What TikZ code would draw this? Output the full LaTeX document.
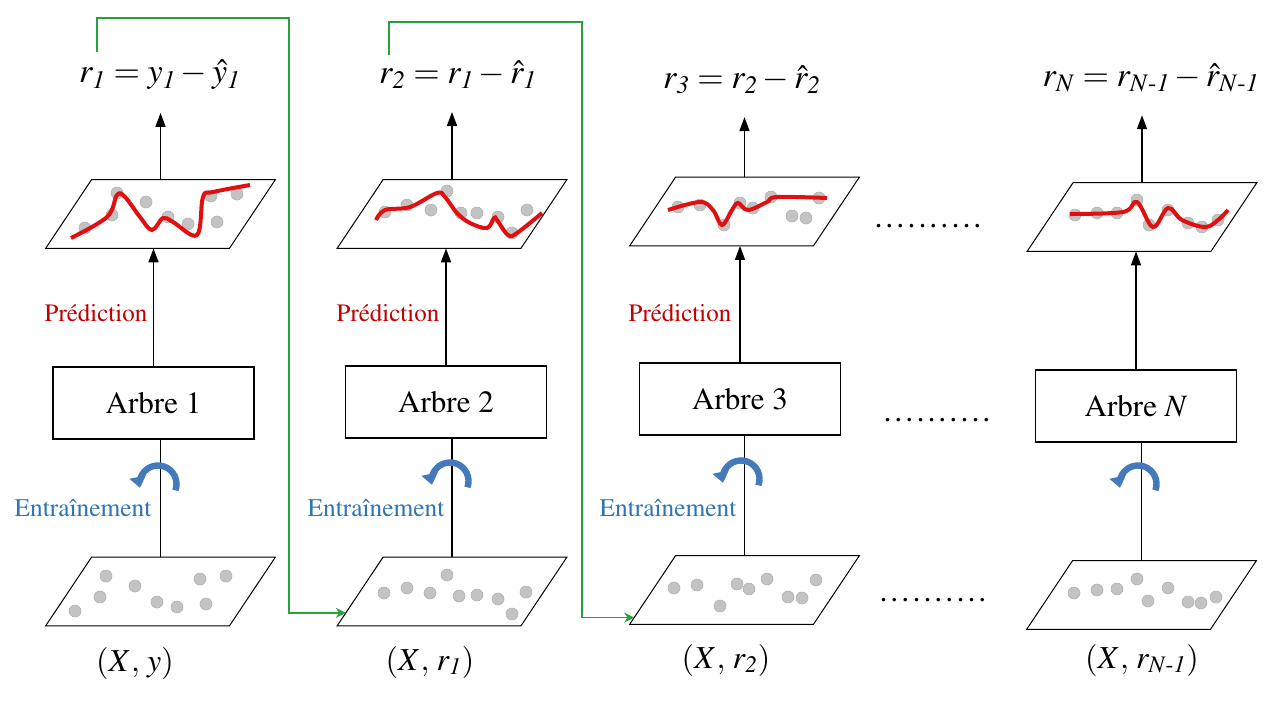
\documentclass[tikz,border=0pt]{standalone}
\usepackage[T1]{fontenc}
\usepackage{mathptmx}
\usepackage{amsmath}
\usepackage{xcolor}
\usetikzlibrary{positioning,arrows.meta,calc}

\definecolor{predred}{RGB}{192,0,0}
\definecolor{trainblue}{RGB}{46,117,182}
\definecolor{turnblue}{RGB}{68,122,188}
\definecolor{fitred}{RGB}{225,15,15}
\definecolor{feedgreen}{RGB}{40,160,60}
\definecolor{ptgray}{RGB}{195,195,195}

\newcommand{\dotrow}{\makebox[55pt]{\xleaders\hbox to 5.5pt{\hss.\hss}\hfill}}

\begin{document}
\begin{tikzpicture}[x=0.5pt,y=-0.5pt,>={Triangle[width=5pt,length=7pt]},
  tree/.style={draw,line width=0.6pt,minimum width=100.5pt,minimum height=36pt,font=\fontsize{15.5}{18}\selectfont},
  plane/.style={inner sep=0pt,minimum width=114.5pt,minimum height=34pt},
  edge/.style={line width=0.5pt},
  formula/.style={font=\fontsize{17}{20}\selectfont},
  data/.style={font=\fontsize{16}{19}\selectfont},
  pred/.style={text=predred,font=\fontsize{12.5}{15}\selectfont},
  train/.style={text=trainblue,font=\fontsize{12.7}{15}\selectfont},
  link/.style={line width=0.8pt},
  feed/.style={draw=feedgreen,line width=0.75pt,-{Stealth[width=5pt,length=5pt]}},
  fit/.style={draw=fitred,line width=2pt,smooth,tension=0.6},
  pt/.style={fill=ptgray,draw=gray!60,line width=0.3pt},
  turn/.style={draw=turnblue,line width=3.2pt,-{Triangle[width=8pt,length=5.5pt]}}]
\useasboundingbox (0,0) rectangle (1280,720);

\node[plane] (t1) at (160.5,214) {};
\node[plane] (t2) at (452,214) {};
\node[plane] (t3) at (744.5,211.5) {};
\node[plane] (t4) at (1142,217) {};
\node[plane] (d1) at (160.5,591.5) {};
\node[plane] (d2) at (452,591.5) {};
\node[plane] (d3) at (744.5,590) {};
\node[plane] (d4) at (1141.5,595) {};
\foreach \n in {t1,t2,t3,t4,d1,d2,d3,d4}
  \draw[edge] (\n.south west) -- ($(\n.south east)+(-46,0)$) -- (\n.north east)
    -- ($(\n.north west)+(46,0)$) -- cycle;

\node[tree] (a1) at (153.5,403) {Arbre 1};
\node[tree] (a2) at (446,402) {Arbre 2};
\node[tree] (a3) at (740,399) {Arbre 3};
\node[tree] (a4) at (1136,406) {Arbre \textit{N}};

\node[formula] (r1) at (160,75) {$r_{\mathit{1}} = y_{\mathit{1}} - \hat{y}_{\mathit{1}}$};
\node[formula] (r2) at (458,75) {$r_{\mathit{2}} = r_{\mathit{1}} - \hat{r}_{\mathit{1}}$};
\node[formula] (r3) at (742,80) {$r_{\mathit{3}} = r_{\mathit{2}} - \hat{r}_{\mathit{2}}$};
\node[formula] (r4) at (1151,78) {$r_{N} = r_{N\text{-}\mathit{1}} - \hat{r}_{N\text{-}\mathit{1}}$};

\node[data] (x1) at (135,663) {$(X,\, y)$};
\node[data] (x2) at (430,662) {$(X,\, r_{\mathit{1}})$};
\node[data] (x3) at (726,660) {$(X,\, r_{\mathit{2}})$};
\node[data] (x4) at (1142,660) {$(X,\, r_{N\text{-}\mathit{1}})$};

\node[pred] (pr1) at (96,313) {Pr\'ediction};
\node[pred] (pr2) at (388,313) {Pr\'ediction};
\node[pred] (pr3) at (680,313) {Pr\'ediction};
\node[train] (tr1) at (83,508) {Entra\^inement};
\node[train] (tr2) at (376,508) {Entra\^inement};
\node[train] (tr3) at (668,508) {Entra\^inement};

\node[data] (m1) at (928,226) {\dotrow};
\node[data] (m2) at (937,420) {\dotrow};
\node[data] (m3) at (933,600) {\dotrow};

\foreach \i in {1,...,4}{
  \draw[link] (d\i.north) -- (d\i.north |- a\i.south);
  \draw[link,->] (a\i.north) -- (a\i.north |- t\i.south);
  \draw[link,->,shorten >=8pt] (t\i.north) -- (t\i.north |- r\i.south);
}
\foreach \x/\y in {158/484,450/481,741/479,1138/484}
  \draw[turn] (\x,\y) ++(17.4,6.3) arc[start angle=20,end angle=-192,radius=18.5];

\foreach \x/\y in {85/228,117/193,112/215,146/202,168/217,188/224,211/196,237/194,217/222,
  385/212,407/205,431/210,447/191,461/213,477/213,498/217,512/233,527/210,
  678/207,700/205,724/225,740/203,753/208,771/197,792/216,806/218,819/198,
  1075/215,1097/213,1117/213,1137/200,1149/225,1168/210,1188/223,1202/227,1218/220,
  106/576,135/586,200/579,226/576,100/597,75/611,157/602,177/607,206/604,
  384/593,407/588,430/593,447/575,459/596,477/595,498/599,526/592,512/614,
  674/588,697/585,720/606,737/584,749/589,767/579,788/597,802/598,816/580,
  1074/593,1097/590,1117/589,1137/579,1148/601,1168/588,1188/602,1201/603,1216/597}
  \fill[pt] (\x,\y) circle[radius=6];

\draw[fit] plot coordinates {(71,238) (107,217) (117,195) (125,197) (140,217) (152,230)
  (163,218) (173,222) (197,235) (203,197) (213,192) (250,185)};
\draw[fit] plot coordinates {(376,220) (385,210) (410,207) (437,193) (445,197) (457,213)
  (470,223) (487,228) (494,218) (497,220) (508,235) (517,233) (542,213)};
\draw[fit] plot coordinates {(668,210) (700,202) (713,210) (722,225) (732,210) (738,203)
  (748,210) (767,202) (777,197) (827,198)};
\draw[fit] plot coordinates {(1070,214) (1123,212) (1137,202) (1153,227) (1168,208)
  (1182,220) (1205,227) (1218,220) (1228,210)};

\coordinate (gs1) at (97,52);
\coordinate (gs2) at (389,55);
\coordinate (ge2) at ($(d2.south west)!0.19!($(d2.north west)+(46,0)$)$);
\coordinate (ge3) at ($(d3.south west)!0.10!($(d3.north west)+(46,0)$)$);
\draw[feed] (gs1) |- ++(192,-34) |- (ge2);
\draw[feed] (gs2) |- ++(193,-33) |- (ge3);
\end{tikzpicture}
\end{document}
